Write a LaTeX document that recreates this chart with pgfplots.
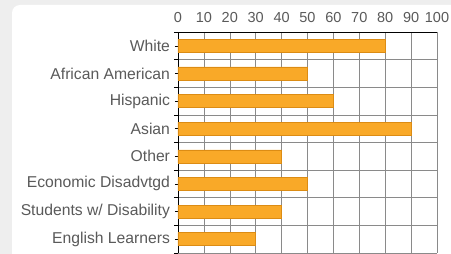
\documentclass[border=0pt]{standalone}
\usepackage{pgfplots}
\pgfplotsset{compat=1.18}
\usepackage{fontspec}
\setmainfont{Liberation Sans}
\definecolor{bg}{HTML}{EEEEEE}
\definecolor{barfill}{HTML}{F9A928}
\definecolor{baredge}{HTML}{DC8C14}
\definecolor{txt}{HTML}{5A5A5A}
\definecolor{gridc}{HTML}{8A8A8A}
\begin{document}
\begin{tikzpicture}[x=1pt,y=1pt]
\useasboundingbox (0,0) rectangle (451,254);
\fill[bg] (0,0) rectangle (451,254);
\begin{scope}
\clip (0,0) rectangle (451,254);
\fill[white,rounded corners=8pt] (12,-20) rectangle (470,249);
\end{scope}
\begin{axis}[
  at={(178pt,1pt)}, anchor=south west,
  scale only axis, width=259pt, height=221pt,
  xmin=0, xmax=100, ymin=0.5, ymax=8.5,
  y dir=reverse,
  xbar, bar width=13pt, bar shift=0pt,
  axis x line*=top, axis y line*=left,
  axis line style={black, line width=0.9pt},
  xtick={0,10,...,100},
  xticklabel pos=top,
  xmajorgrids, grid style={gridc, line width=0.5pt},
  minor grid style={gridc, line width=0.5pt},
  x tick style={draw=none},
  xticklabel style={font=\fontsize{14.5}{16}\selectfont, text=txt, yshift=3pt},
  /pgf/number format/assume math mode=true,
  ytick={1,...,8},
  yticklabels={White,African American,Hispanic,Asian,Other,Economic Disadvtgd,Students w/ Disability,English Learners},
  yticklabel style={font=\fontsize{15.7}{18}\selectfont, text=txt, xshift=-1.5pt},
  minor ytick={0.5,1.5,...,8.5},
  yminorgrids,
  y tick style={black, line width=0.6pt},
  major tick length=3pt, minor tick length=4pt,
  tick align=outside,
  clip=false,
]
\addplot[fill=barfill, draw=baredge, line width=0.5pt] coordinates {
  (80,1) (50,2) (60,3) (90,4) (40,5) (50,6) (40,7) (30,8)
};
\end{axis}
\end{tikzpicture}
\end{document}
